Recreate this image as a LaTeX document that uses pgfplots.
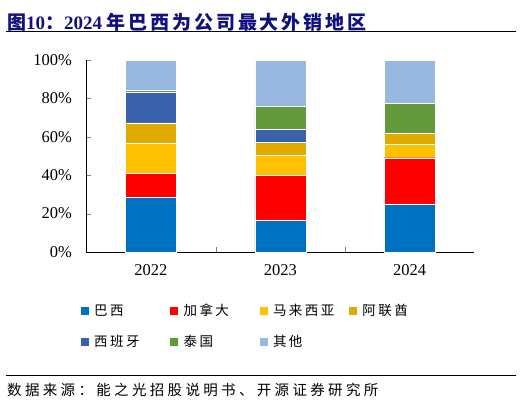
\documentclass[border=0pt]{standalone}
\usepackage{fontspec}
\setmainfont{Liberation Serif}
\newfontfamily\cjk{Noto Sans CJK SC}
\newfontfamily\cjktitle[LetterSpace=15]{Noto Sans CJK SC}
\newfontfamily\cjklegend[LetterSpace=18]{Noto Sans CJK SC}
\newfontfamily\cjksource[LetterSpace=23]{Noto Sans CJK SC}
\usepackage{pgfplots}
\pgfplotsset{compat=1.18}
\usepackage{pgfplotstable}

\definecolor{cBrazil}{RGB}{0,112,192}
\definecolor{cCanada}{RGB}{255,0,0}
\definecolor{cMalay}{RGB}{255,192,0}
\definecolor{cUAE}{RGB}{224,170,0}
\definecolor{cSpain}{RGB}{58,98,172}
\definecolor{cThai}{RGB}{98,154,60}
\definecolor{cOther}{RGB}{151,185,224}
\definecolor{navy}{RGB}{16,16,128}

% share of exports by region, %
\pgfplotstableread{
x brazil canada malay uae spain thai other
0 28.6 12.5 15.8 10.3 15.8 1.2 15.8
1 16.5 23.3 10.7 6.6 6.6 12.2 24.1
2 25.0 24.1 7.0 5.9 0.0 15.3 22.7
}\shares

\begin{document}
\begin{tikzpicture}
\path[use as bounding box] (0pt,0pt) rectangle (522pt,405pt);

% title
\node[anchor=west,inner sep=0,text=navy,font=\fontsize{19}{19}\selectfont\bfseries]
  at (7pt,383pt) {{\cjk 图}10{\cjk ：}2024 {\cjktitle 年巴西为公司最大外销地区}};
\draw[line width=0.8pt] (6pt,374pt) -- (516pt,374pt);

\begin{axis}[
  at={(86.3pt,153pt)}, anchor=south west,
  width=388pt, height=192pt, scale only axis,
  ybar stacked, bar width=51pt,
  xmin=-0.5, xmax=2.5, ymin=0, ymax=100,
  axis x line*=bottom, axis y line*=left,
  xtick={0,1,2}, xticklabels={2022,2023,2024},
  minor x tick num=1,
  major x tick style={draw=none},
  major tick length=5pt, minor tick length=5pt,
  tick align=inside,
  ytick={0,20,...,100},
  yticklabel={\pgfmathprintnumber{\tick}\%},
  /pgf/number format/assume math mode=true,
  tick label style={font=\fontsize{16.5}{16.5}\selectfont},
  x tick label style={yshift=-9pt},
  y tick label style={xshift=-11pt},
  every axis plot/.append style={draw=white, line width=0.4pt},
  legend columns=4,
  legend style={at={(-0.025,-0.25)}, anchor=north west, draw=none,
    font=\cjklegend\fontsize{13.5}{13.5}\selectfont,
    /tikz/every odd column/.append style={column sep=3pt},
    row sep=14pt,
    cells={anchor=west, text width=73pt}},
  legend image code/.code={\fill[#1] (0pt,-4.5pt) rectangle (9pt,4.5pt);},
]
\addplot[fill=cBrazil] table[x=x,y=brazil] {\shares};
\addplot[fill=cCanada] table[x=x,y=canada] {\shares};
\addplot[fill=cMalay] table[x=x,y=malay] {\shares};
\addplot[fill=cUAE] table[x=x,y=uae] {\shares};
\addplot[fill=cSpain] table[x=x,y=spain] {\shares};
\addplot[fill=cThai] table[x=x,y=thai] {\shares};
\addplot[fill=cOther] table[x=x,y=other] {\shares};
\legend{巴西,加拿大,马来西亚,阿联酋,西班牙,泰国,其他}
\end{axis}

% source
\draw[line width=0.8pt] (6pt,30pt) -- (516pt,30pt);
\node[anchor=west,inner sep=0,font=\cjksource\fontsize{14.5}{14.5}\selectfont]
  at (7pt,15pt) {数据来源：能之光招股说明书、开源证券研究所};
\end{tikzpicture}
\end{document}
